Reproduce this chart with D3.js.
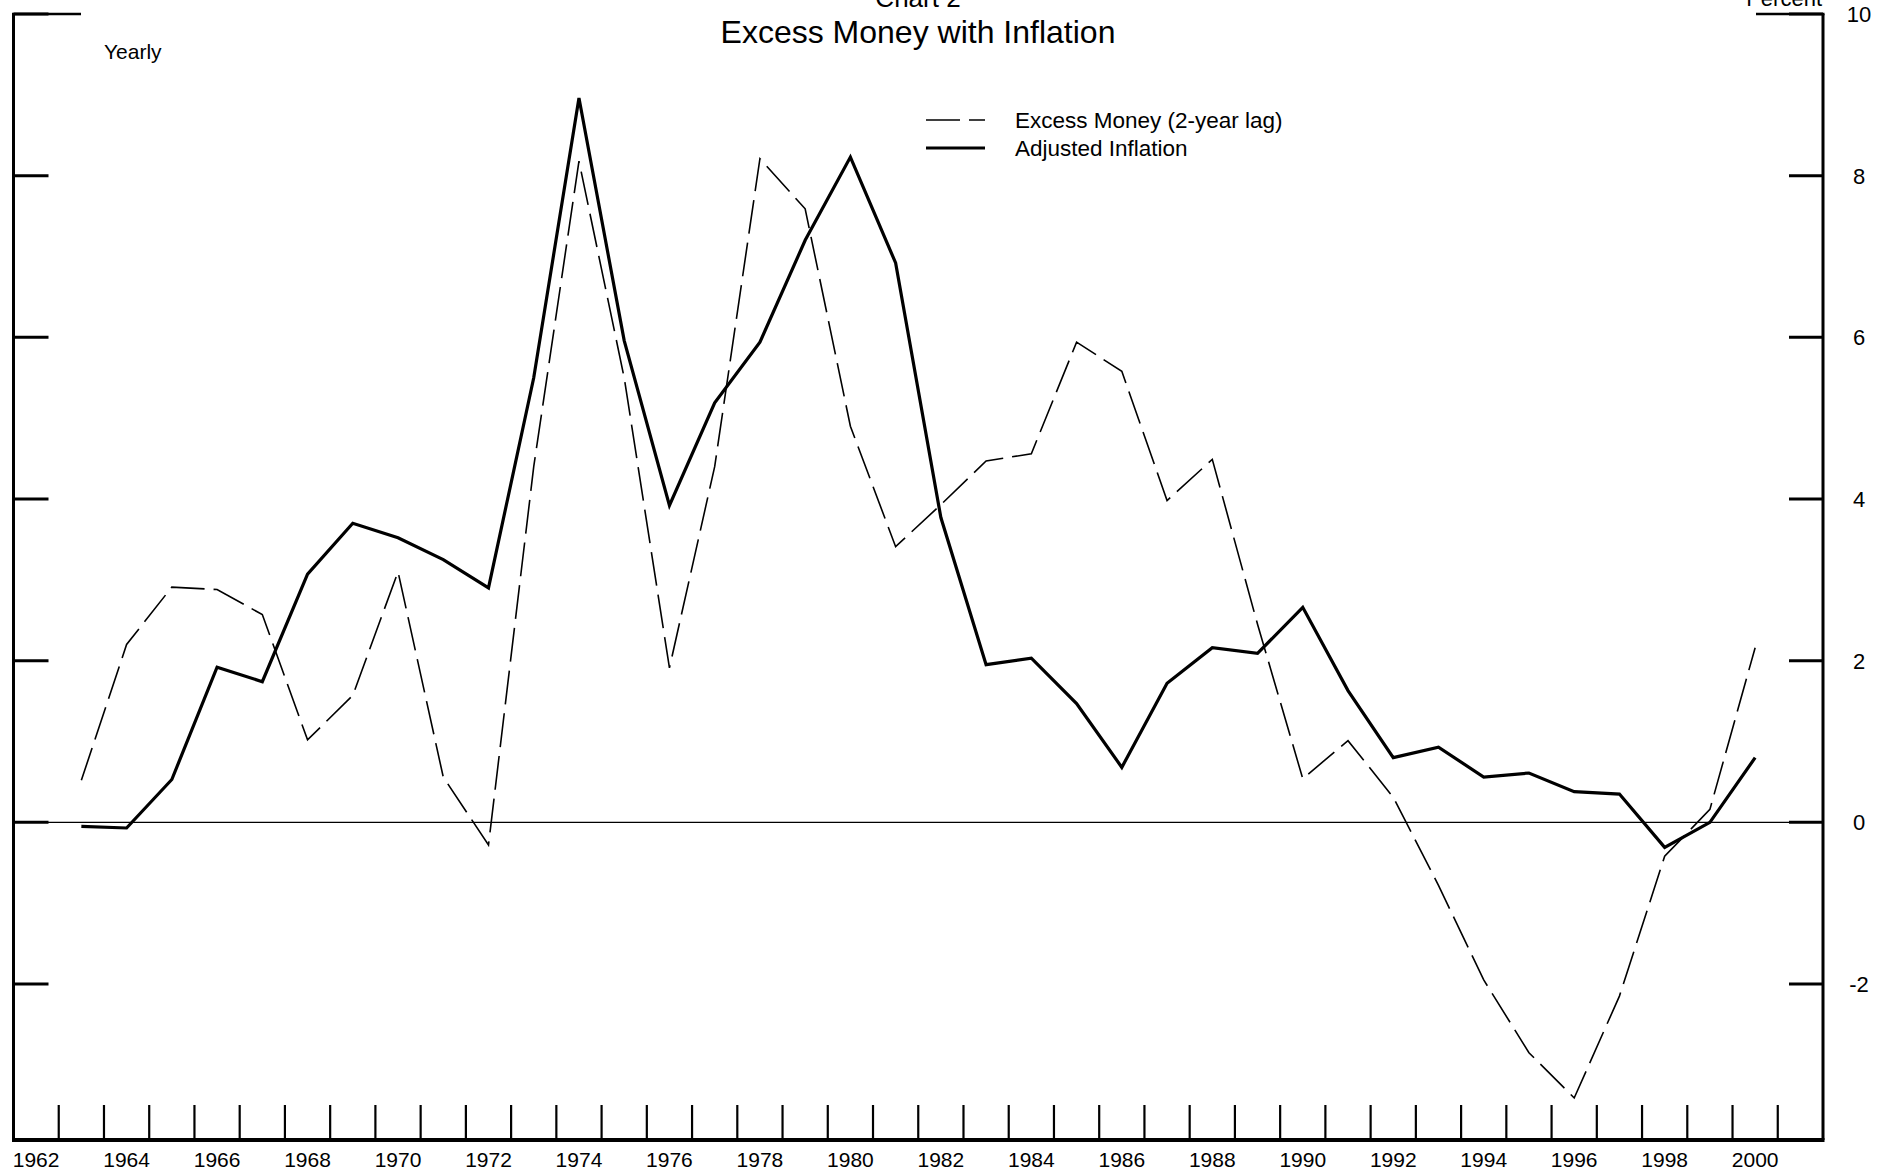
<!DOCTYPE html>
<html>
<head>
<meta charset="utf-8">
<script src="https://cdn.jsdelivr.net/npm/d3@7"></script>
<style>
  html, body { margin: 0; padding: 0; background: #fff; }
  svg { display: block; font-family: "Liberation Sans", Arial, sans-serif; }
</style>
</head>
<body>
<svg id="chart" width="1879" height="1176"></svg>
<script>
// ---- data ----
const years = [1963,1964,1965,1966,1967,1968,1969,1970,1971,1972,1973,1974,1975,1976,1977,1978,1979,1980,1981,1982,1983,1984,1985,1986,1987,1988,1989,1990,1991,1992,1993,1994,1995,1996,1997,1998,1999,2000];
const excessMoney = [0.52,2.20,2.91,2.88,2.57,1.02,1.57,3.10,0.56,-0.28,4.40,8.18,5.50,1.91,4.40,8.21,7.59,4.90,3.41,3.93,4.47,4.56,5.94,5.58,3.98,4.49,2.45,0.54,1.01,0.31,-0.78,-1.95,-2.85,-3.41,-2.15,-0.42,0.16,2.16];
const adjustedInflation = [-0.05,-0.07,0.53,1.92,1.74,3.07,3.70,3.52,3.25,2.90,5.50,8.96,5.96,3.92,5.19,5.94,7.20,8.23,6.92,3.77,1.95,2.03,1.47,0.68,1.72,2.16,2.09,2.66,1.63,0.80,0.93,0.56,0.61,0.38,0.35,-0.31,0.00,0.80];
const yTicks = [-2,0,2,4,6,8,10];
const xLabelYears = [1962,1964,1966,1968,1970,1972,1974,1976,1978,1980,1982,1984,1986,1988,1990,1992,1994,1996,1998,2000];
const xTickYears = d3.range(1963, 2002);
const seriesNames = ["Excess Money (2-year lag)", "Adjusted Inflation"];

// ---- layout ----
const L = 13.5, R = 1823, T = 14, B = 1140;
const svg = d3.select("#chart");
const x = d3.scaleLinear().domain([1962, 2002]).range([L, R]);
const y = d3.scaleLinear().domain([-3.93, 10]).range([B, T]);
const xc = yr => x(yr + 0.5);

// zero line
svg.append("line").attr("x1", L).attr("x2", R).attr("y1", y(0)).attr("y2", y(0))
  .attr("stroke", "#000").attr("stroke-width", 1.2);

// frame: left, right, bottom, top segments
const g = svg.append("g").attr("stroke", "#000").attr("fill", "none");
g.append("line").attr("x1", L).attr("x2", L).attr("y1", T).attr("y2", B).attr("stroke-width", 3);
g.append("line").attr("x1", R).attr("x2", R).attr("y1", T).attr("y2", B).attr("stroke-width", 3);
g.append("line").attr("x1", L - 1.5).attr("x2", R + 1.5).attr("y1", B).attr("y2", B).attr("stroke-width", 4);
g.append("line").attr("x1", L - 1.5).attr("x2", 81).attr("y1", T).attr("y2", T).attr("stroke-width", 2.6);
g.append("line").attr("x1", 1756).attr("x2", R + 1.5).attr("y1", T).attr("y2", T).attr("stroke-width", 2.6);

// y ticks left & right
yTicks.forEach(v => {
  g.append("line").attr("x1", L).attr("x2", L + 35).attr("y1", y(v)).attr("y2", y(v)).attr("stroke-width", 3);
  g.append("line").attr("x1", R - 34).attr("x2", R).attr("y1", y(v)).attr("y2", y(v)).attr("stroke-width", 3);
});
// right labels
svg.append("g").selectAll("text").data(yTicks).join("text")
  .attr("x", 1859).attr("y", d => y(d)).attr("dy", "0.36em")
  .attr("text-anchor", "middle").attr("font-size", 22).text(d => d);

// x ticks
xTickYears.forEach(yr => {
  g.append("line").attr("x1", x(yr)).attr("x2", x(yr)).attr("y1", B - 35).attr("y2", B).attr("stroke-width", 2.2);
});
svg.append("g").selectAll("text").data(xLabelYears).join("text")
  .attr("x", d => xc(d)).attr("y", 1167)
  .attr("text-anchor", "middle").attr("font-size", 21).text(d => d);

// lines
const line = d3.line().x((d, i) => xc(years[i])).y(d => y(d));
svg.append("path").datum(excessMoney).attr("d", line)
  .attr("fill", "none").attr("stroke", "#000").attr("stroke-width", 1.6)
  .attr("stroke-dasharray", "34,9");
svg.append("path").datum(adjustedInflation).attr("d", line)
  .attr("fill", "none").attr("stroke", "#000").attr("stroke-width", 3.2)
  .attr("stroke-linejoin", "miter");

// texts
svg.append("text").attr("x", 918).attr("y", 7).attr("text-anchor", "middle")
  .attr("font-size", 26).text("Chart 2");
svg.append("text").attr("x", 918).attr("y", 43).attr("text-anchor", "middle")
  .attr("font-size", 32).text("Excess Money with Inflation");
svg.append("text").attr("x", 104).attr("y", 59).attr("font-size", 21).text("Yearly");
svg.append("text").attr("x", 1822).attr("y", 6).attr("text-anchor", "end")
  .attr("font-size", 22).text("Percent");

// legend
const lg = svg.append("g");
lg.append("line").attr("x1", 926).attr("x2", 985).attr("y1", 120).attr("y2", 120)
  .attr("stroke", "#000").attr("stroke-width", 1.6).attr("stroke-dasharray", "34,9");
lg.append("line").attr("x1", 926).attr("x2", 985).attr("y1", 148).attr("y2", 148)
  .attr("stroke", "#000").attr("stroke-width", 3.2);
lg.append("text").attr("x", 1015).attr("y", 128).attr("font-size", 22.5).text(seriesNames[0]);
lg.append("text").attr("x", 1015).attr("y", 156).attr("font-size", 22.5).text(seriesNames[1]);
</script>
</body>
</html>
